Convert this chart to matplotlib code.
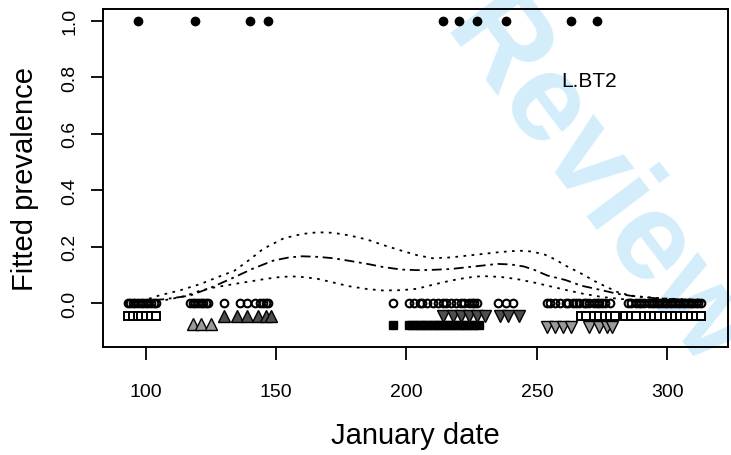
import matplotlib
matplotlib.use('Agg')
import matplotlib.pyplot as plt

plt.rcParams['font.family'] = ['Liberation Sans', 'DejaVu Sans']

# observed infections (prevalence 1) and negatives (prevalence 0), by January date
pos_dates = [97, 119, 140, 147, 214, 220, 227, 238, 263, 273]
neg_dates = [93, 94, 95, 96, 97, 98, 99, 100, 101, 102, 103, 104,
             117, 118, 119, 120, 121, 122, 123, 124,
             130, 136, 139, 142, 144, 145, 146, 147,
             195, 201, 203, 205, 206, 208, 210, 212, 214, 215, 217, 219, 221, 222, 224, 225, 226, 227,
             235, 238, 241,
             254, 255, 257, 259, 261, 262, 264, 265, 266, 268, 269, 270, 272, 273, 274, 275, 276, 278,
             285, 286, 288, 289, 290, 291, 293, 294, 295, 296, 297, 298, 299, 300, 301, 302, 303, 304,
             305, 306, 307, 308, 309, 310, 311, 312, 313]

# sampling groups shown below the zero line
sq_open_dates = [93, 95, 97, 98, 100, 102, 104,
                 267, 269, 272, 274, 276, 278, 280, 284, 286, 288, 291, 293, 295, 297, 299, 301,
                 303, 305, 307, 309, 311, 313]
sq_open_y = -0.044
up_light_dates = [118, 121, 125]
up_light_y = -0.073
up_dark_dates = [130, 135, 139, 143, 146, 148]
up_dark_y = -0.044
sq_fill_dates = [195, 201, 202, 204, 205, 207, 208, 210, 211, 213, 214, 216, 217, 219, 220, 222, 223,
                 225, 226, 228]
sq_fill_y = -0.076
down_dark_dates = [214, 218, 221, 224, 227, 230, 236, 239, 243]
down_dark_y = -0.044
down_light_dates = [254, 257, 260, 263, 270, 274, 277, 279]
down_light_y = -0.085

# fitted prevalence and confidence band
fit_x = [92, 100, 108, 117, 125, 134, 141, 149, 155, 160, 166, 172, 178, 185, 191, 198, 204, 210,
         217, 223, 229, 235, 240, 245, 249, 254, 261, 267, 273, 281, 287, 295, 305, 314]
fit_mid = [0.003, 0.008, 0.015, 0.027, 0.055, 0.092, 0.122, 0.151, 0.162, 0.166, 0.164, 0.159,
           0.150, 0.139, 0.128, 0.119, 0.117, 0.118, 0.121, 0.127, 0.133, 0.139, 0.137, 0.130,
           0.118, 0.098, 0.082, 0.062, 0.050, 0.033, 0.025, 0.018, 0.013, 0.010]
upper_x = [92, 100, 105, 113, 121, 127, 134, 140, 145, 153, 160, 166, 172, 178, 185, 191, 198, 204,
           210, 217, 223, 230, 236, 243, 248, 253, 257, 261, 267, 273, 281, 286, 291, 300, 314]
fit_upper = [0.004, 0.012, 0.027, 0.045, 0.068, 0.090, 0.115, 0.155, 0.192, 0.230, 0.245, 0.251,
             0.249, 0.240, 0.225, 0.206, 0.186, 0.170, 0.159, 0.162, 0.168, 0.175, 0.181, 0.186,
             0.183, 0.172, 0.155, 0.133, 0.105, 0.074, 0.039, 0.027, 0.022, 0.016, 0.012]
lower_x = [92, 100, 108, 115, 121, 127, 134, 140, 146, 151, 156, 161, 166, 172, 178, 185, 191, 198,
           204, 210, 217, 223, 229, 236, 242, 249, 255, 262, 268, 275, 282, 290, 300, 314]
fit_lower = [0.001, 0.005, 0.012, 0.025, 0.045, 0.057, 0.068, 0.077, 0.086, 0.092, 0.095, 0.092,
             0.086, 0.073, 0.060, 0.050, 0.045, 0.046, 0.051, 0.065, 0.080, 0.090, 0.096, 0.093,
             0.086, 0.073, 0.060, 0.045, 0.033, 0.022, 0.015, 0.010, 0.007, 0.005]

W, H = 731, 456
fig = plt.figure(figsize=(W / 100, H / 100), dpi=100)
ax = fig.add_axes([103 / W, 1 - 348 / H, 624.7 / W, 338 / H])
ax.set_facecolor('none')

# watermark behind the plot (runs off the page like in the source)
fig.text(440 / W, 1 - 32 / H, 'Review', color='#d3edfb', fontsize=90, fontweight='bold',
         rotation=-53, rotation_mode='anchor', ha='left', va='baseline', zorder=-1)

ax.plot(neg_dates, [0] * len(neg_dates), 'o', mfc='none', mec='black', ms=5.5, mew=1.5)
ax.plot(pos_dates, [1] * len(pos_dates), 'o', color='black', ms=6)
ax.plot(sq_open_dates, [sq_open_y] * len(sq_open_dates), 's', mfc='white', mec='black', ms=6, mew=1.4)
ax.plot(sq_fill_dates, [sq_fill_y] * len(sq_fill_dates), 's', color='black', ms=6)
ax.plot(up_light_dates, [up_light_y] * len(up_light_dates), '^', mfc='#9a9a9a', mec='black', ms=8.5, mew=1)
ax.plot(up_dark_dates, [up_dark_y] * len(up_dark_dates), '^', mfc='#4d4d4d', mec='black', ms=8.5, mew=1)
ax.plot(down_dark_dates, [down_dark_y] * len(down_dark_dates), 'v', mfc='#4d4d4d', mec='black', ms=8.5, mew=1)
ax.plot(down_light_dates, [down_light_y] * len(down_light_dates), 'v', mfc='#9a9a9a', mec='black', ms=8.5, mew=1)

ax.plot(upper_x, fit_upper, color='black', lw=1.3, linestyle=(0, (1.5, 3.0)))
ax.plot(lower_x, fit_lower, color='black', lw=1.3, linestyle=(0, (1.5, 3.0)))
ax.plot(fit_x, fit_mid, color='black', lw=1.3, linestyle=(0, (1.5, 2.6, 5.5, 2.6)))

ax.text(270, 0.787, 'L.BT2', fontsize=15, ha='center', va='center')

ax.set_xlim(83.6, 323.2)
ax.set_ylim(-0.155, 1.041)
ax.set_xticks([100, 150, 200, 250, 300])
ax.set_yticks([0.0, 0.2, 0.4, 0.6, 0.8, 1.0])
ax.set_yticklabels(['0.0', '0.2', '0.4', '0.6', '0.8', '1.0'])
ax.tick_params(direction='out', length=9, width=1.3, labelsize=14)
ax.tick_params(axis='x', pad=17)
ax.tick_params(axis='y', pad=9)
plt.setp(ax.get_yticklabels(), rotation=90, va='center')
for s in ax.spines.values():
    s.set_linewidth(1.4)

ax.set_xlabel('January date', fontsize=21)
ax.xaxis.set_label_coords(0.5, -0.219)
ax.set_ylabel('Fitted prevalence', fontsize=21)
ax.yaxis.set_label_coords(-0.102, 0.5)

fig.savefig('out.png', dpi=100)
